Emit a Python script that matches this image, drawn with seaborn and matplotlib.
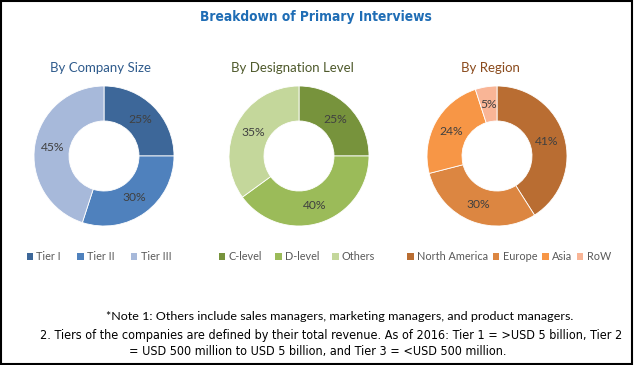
import matplotlib
matplotlib.use("Agg")
import matplotlib.pyplot as plt
import seaborn as sns
from matplotlib.patches import Patch, Rectangle
from matplotlib import font_manager

sns.set_style("white")
plt.rcParams['font.family'] = ['Lato', 'DejaVu Sans']

# ---- data ----
company_labels = ['Tier I', 'Tier II', 'Tier III']
company_values = [25, 30, 45]
designation_labels = ['C-level', 'D-level', 'Others']
designation_values = [25, 40, 35]
region_labels = ['North America', 'Europe', 'Asia', 'RoW']
region_values = [41, 30, 24, 5]

company_colors = sns.color_palette(['#3d6799', '#4f81bd', '#a7b9da'])
designation_colors = sns.color_palette(['#77933c', '#9bbb59', '#c4d79b'])
region_colors = sns.color_palette(['#b96d32', '#dc8641', '#f79646', '#f9b596'])

W, H = 634, 365
fig = plt.figure(figsize=(W / 100, H / 100), dpi=100)
fig.patch.set_facecolor('white')

cond = [f for f in font_manager.fontManager.ttflist
        if f.name == 'DejaVu Sans' and 'ondensed' in f.fname]
NARROW_KW = dict(family='DejaVu Sans', fontstretch='condensed') if cond else dict(family='Roboto')


def fx(x):
    return x / W


def fy(y):
    return 1 - y / H


def donut(cx, cy, r, values, colors):
    ax = fig.add_axes([fx(cx - r), fy(cy + r), 2 * r / W, 2 * r / H])
    ax.pie(values, colors=colors, startangle=90, counterclock=False,
           radius=1, autopct='%d%%', pctdistance=0.74,
           wedgeprops=dict(width=0.5, edgecolor='white', linewidth=0.6),
           textprops=dict(color='#404040', fontsize=8.7))
    ax.set_xlim(-1, 1)
    ax.set_ylim(-1, 1)
    ax.set_aspect('auto')
    ax.axis('off')
    return ax


donut(104, 156, 70, company_values, company_colors)
donut(299, 156, 70, designation_values, designation_colors)
donut(497, 156, 70, region_values, region_colors)

renderer = fig.canvas.get_renderer()


def fit(t, target_px):
    w = t.get_window_extent(renderer=renderer).width
    t.set_fontsize(t.get_fontsize() * target_px / w)


# titles
t = fig.text(fx(316), fy(17), 'Breakdown of Primary Interviews', ha='center', va='center',
             fontsize=10.5, fontweight='bold', color='#1f6db5', **NARROW_KW)
fit(t, 234)
fig.text(fx(101), fy(68), 'By Company Size', ha='center', va='center',
         fontsize=9.5, color='#2f5b8c')
fig.text(fx(292), fy(68), 'By Designation Level', ha='center', va='center',
         fontsize=9.5, color='#4f5a2c')
fig.text(fx(490), fy(68), 'By Region', ha='center', va='center',
         fontsize=9.5, color='#8a4a1c')


def legend(labels, colors, cx, spacing):
    handles = [Patch(facecolor=c, edgecolor='none') for c in colors]
    fig.legend(handles, labels, loc='center', bbox_to_anchor=(fx(cx), fy(257)),
               ncol=len(labels), frameon=False, fontsize=7.8,
               handlelength=0.6, handleheight=0.6, handletextpad=0.3,
               columnspacing=spacing, labelcolor='#595959', borderaxespad=0)


legend(company_labels, company_colors, 99, 1.5)
legend(designation_labels, designation_colors, 297, 1.2)
legend(region_labels, region_colors, 509, 0.45)

# notes
t1 = fig.text(fx(340), fy(316),
              '*Note 1: Others include sales managers, marketing managers, and product managers.',
              ha='center', va='center', fontsize=9, color='#000000')
fit(t1, 466)
t2 = fig.text(fx(331), fy(335),
              '2. Tiers of the companies are defined by their total revenue. As of 2016: Tier 1 = >USD 5 billion, Tier 2',
              ha='center', va='center', fontsize=8.6, color='#000000', **NARROW_KW)
fit(t2, 580)
t3 = fig.text(fx(318), fy(352),
              '= USD 500 million to USD 5 billion, and Tier 3 = <USD 500 million.',
              ha='center', va='center', fontsize=t2.get_fontsize(), color='#000000', **NARROW_KW)

# border
fig.patches.append(Rectangle((0.0015, 0.004), 0.995, 0.994, transform=fig.transFigure,
                             fill=False, edgecolor='black', linewidth=1.5))

fig.savefig('out.png', dpi=100)
